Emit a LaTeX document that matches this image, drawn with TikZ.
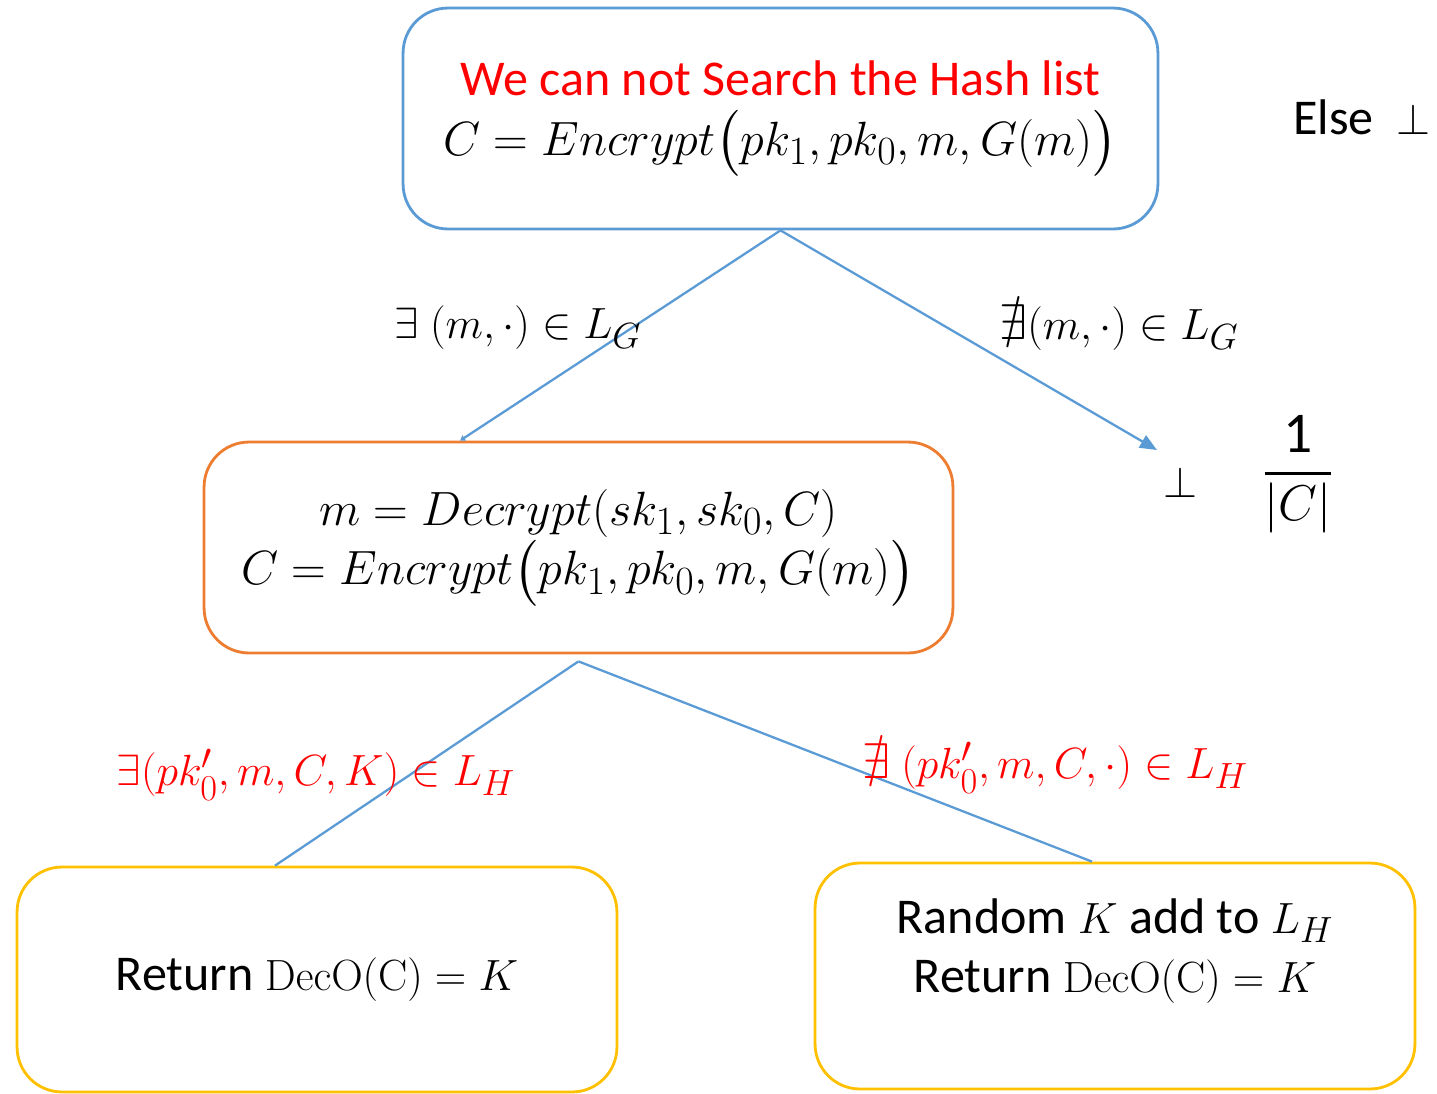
\documentclass[tikz,border=0pt]{standalone}
\usepackage{amsmath}
\usepackage{amssymb}
\usepackage{graphicx}
\usepackage[no-math]{fontspec}
\setmainfont{Carlito}
\usepackage{tikz}
\usetikzlibrary{
    positioning,
    arrows.meta
}
\definecolor{lineblue}{HTML}{5B9BD5}
\definecolor{boxorange}{HTML}{ED7D31}
\definecolor{boxgold}{HTML}{FFC000}
\definecolor{textred}{HTML}{FF0000}
\newcommand{\boxmath}[1]{\scalebox{1.1}{$#1$}}
\tikzset{
    >={Triangle[length=0.34cm,width=0.28cm]},
    box/.style={
        draw,
        rounded corners=0.9cm,
        line width=1.6pt,
        align=center,
        inner sep=0pt
    },
    link/.style={
        color=lineblue,
        line width=1.3pt
    }
}

\begin{document}
\begin{tikzpicture}[
    x=0.02cm, y=-0.02cm,
    font=\fontsize{28.5}{34}\selectfont
]
    \useasboundingbox (0,0) rectangle (1437,1093);

    % Cajas
    \node[box, draw=lineblue, minimum width=15.1cm, minimum height=4.42cm]
        (search) at (780.5,118.5)
        {\textcolor{textred}{We can not Search the Hash list}\\
         \boxmath{C = Encrypt\bigl(pk_1, pk_0, m, G(m)\bigr)}};

    \node[box, draw=boxorange, minimum width=14.98cm, minimum height=4.22cm]
        (decrypt) at (578.5,547.5)
        {\boxmath{m = Decrypt(sk_1, sk_0, C)}\\
         \boxmath{C = Encrypt\bigl(pk_1, pk_0, m, G(m)\bigr)}};

    \node[box, draw=boxgold, minimum width=12cm, minimum height=4.5cm]
        (found) at (317,979.5)
        {Return $\mathrm{DecO(C)} = K$};

    \node[box, draw=boxgold, minimum width=12cm, minimum height=4.52cm]
        (random) at (1115,976) {};
    \node[align=center] (randomtxt) at ([yshift=0.5cm]random.center)
        {Random $K$ add to $L_H$\\
         Return $\mathrm{DecO(C)} = K$};

    % Resultados
    \node (bot) at (1180,482) {$\perp$};
    \node (prob) at (1298,474)
        {\scalebox{1.15}{$\dfrac{\text{1}}{|C|}$}};
    \node (else) at (1362,117) {Else \ $\perp$};

    % Puntos de llegada
    \coordinate (tipleft) at ([xshift=-2.37cm]decrypt.north);
    \coordinate (tipright) at (1157,450);
    \coordinate (split) at ([yshift=-0.14cm]decrypt.south);
    \coordinate (endleft) at ([xshift=-0.84cm]found.north);
    \coordinate (endright) at ([xshift=-0.46cm]random.north);

    % Conexiones
    \path[link]
        (search.south)
            edge[-{Triangle[length=0.1cm,width=0.12cm]}] (tipleft)
            edge[->] (tipright)
        (split)
            edge (endleft)
            edge (endright);

    % Condiciones
    \node (hasG) at (518,328) {$\exists\ (m,\cdot) \in L_G$};
    \node (notG) at (1119,328) {$\nexists(m,\cdot) \in L_G$};
    \node[text=textred] (hasH) at (316,775)
        {$\exists(pk_0', m, C, K) \in L_H$};
    \node[text=textred] (notH) at (1055,768)
        {$\nexists\ (pk_0', m, C, \cdot) \in L_H$};

\end{tikzpicture}
\end{document}
